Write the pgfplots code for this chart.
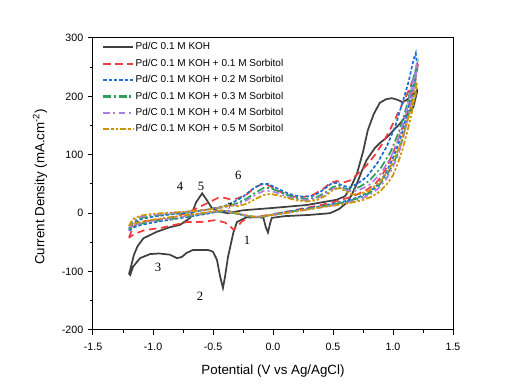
\documentclass[border=0pt]{standalone}
\usepackage{fontspec}
\setmainfont{Liberation Sans}
\newfontfamily\serifnum{Liberation Serif}
\usepackage{pgfplots}
\pgfplotsset{compat=1.18}
\definecolor{cblack}{HTML}{404040}
\definecolor{cred}{HTML}{F03C3C}
\definecolor{cblue}{HTML}{1E6ED8}
\definecolor{cgreen}{HTML}{2CA05A}
\definecolor{cpurple}{HTML}{B07EE0}
\definecolor{corange}{HTML}{CC9600}
\begin{document}
\begin{tikzpicture}
\begin{axis}[
  scale only axis, width=270pt, height=219pt,
  xmin=-1.5, xmax=1.5, ymin=-200, ymax=300,
  xtick={-1.5,-1,-0.5,0,0.5,1,1.5},
  xticklabels={-1.5,-1.0,-0.5,0.0,0.5,1.0,1.5},
  ytick={-200,-100,0,100,200,300},
  yticklabels={-200,-100,0,100,200,300},
  minor x tick num=1, minor y tick num=1,
  xtick pos=bottom, ytick pos=left,
  tick align=outside,
  major tick length=3.75pt, minor tick length=2.25pt,
  axis line style={line width=0.75pt},
  every tick/.style={line width=0.75pt, black},
  tick label style={font=\fontsize{8}{9.6}\selectfont},
  xticklabel style={yshift=-2.5pt},
  xlabel={Potential (V vs Ag/AgCl)},
  ylabel={Current Density (mA.cm\textsuperscript{-2})},
  label style={font=\fontsize{10}{12}\selectfont},
  xlabel style={at={(axis description cs:0.5,-0.14)}, anchor=center},
  ylabel style={at={(axis description cs:-0.1472,0.49)}, anchor=center},
  legend style={at={(axis description cs:0.025,0.99)}, anchor=north west, draw=none, fill=none,
    font=\fontsize{7.5}{8.5}\selectfont, row sep=3.4pt, inner sep=0pt,
    nodes={inner sep=1pt}},
  legend cell align=left,
  legend image code/.code={\draw[#1, line width=1.6pt] (0pt,0pt) -- (22.5pt,0pt);},
  every axis plot/.append style={line width=1.3pt},
]
% Pd/C 0.1 M KOH
\addplot[cblack, solid] coordinates {
(-1.2,-104) (-1.19,-97) (-1.16,-72) (-1.13,-57) (-1.08,-43) (-0.97,-32) (-0.86,-24) (-0.775,-20) (-0.69,-8) (-0.64,19) (-0.59,34) (-0.55,22) (-0.51,9) (-0.45,3) (-0.38,0) (-0.25,5) (0,9) (0.28,14) (0.53,23) (0.6,29) (0.65,45) (0.7,68) (0.75,105) (0.79,142) (0.84,170) (0.89,189) (0.94,195) (0.99,197) (1.04,194) (1.08,190) (1.12,195) (1.16,201) (1.2,210)
(1.2,207) (1.17,182) (1.11,167) (1.06,154) (1.0,141) (0.95,130) (0.89,120) (0.85,112) (0.81,100) (0.78,91) (0.74,72) (0.7,51) (0.66,33) (0.62,19) (0.55,7) (0.475,0) (0.3,-3) (0.1,-5) (-0.01,-8) (-0.025,-18) (-0.042,-33) (-0.06,-24) (-0.08,-8) (-0.15,-6) (-0.22,-7) (-0.3,-15) (-0.33,-33) (-0.375,-75) (-0.4,-109) (-0.417,-128) (-0.44,-109) (-0.467,-80) (-0.5,-66) (-0.54,-63) (-0.667,-63) (-0.72,-68) (-0.76,-75) (-0.8,-77) (-0.86,-71) (-0.95,-69) (-1.025,-70) (-1.108,-77) (-1.167,-92) (-1.19,-106) (-1.2,-104)
};
\addlegendentry{Pd/C 0.1 M KOH}
% + 0.1 M Sorbitol
\addplot[cred, dash pattern=on 5.5pt off 3.5pt] coordinates {
(-1.2,-42) (-1.17,-25) (-1.12,-15) (-1.0,-12) (-0.9,-10) (-0.8,-5) (-0.7,2) (-0.6,12) (-0.52,20) (-0.46,26) (-0.42,27) (-0.36,24) (-0.3,25) (-0.22,32) (-0.15,44) (-0.1,49) (-0.04,48) (0.03,40) (0.1,33) (0.18,28) (0.26,28) (0.34,32) (0.42,42) (0.48,52) (0.53,55) (0.58,52) (0.64,56) (0.7,66) (0.78,82) (0.85,100) (0.92,122) (0.98,145) (1.05,175) (1.12,205) (1.17,230) (1.2,245)
(1.18,220) (1.14,190) (1.1,160) (1.05,130) (1.0,103) (0.95,80) (0.9,62) (0.85,50) (0.78,40) (0.7,32) (0.62,26) (0.52,20) (0.4,14) (0.25,8) (0.1,2) (0,-2) (-0.1,-5) (-0.2,-8) (-0.26,-14) (-0.3,-24) (-0.33,-28) (-0.36,-22) (-0.4,-16) (-0.48,-12) (-0.6,-15) (-0.71,-15) (-0.82,-20) (-0.93,-25) (-1.07,-29) (-1.15,-35) (-1.2,-42)
};
\addlegendentry{Pd/C 0.1 M KOH + 0.1 M Sorbitol}
% + 0.2 M Sorbitol
\addplot[cblue, dash pattern=on 2.5pt off 1.5pt] coordinates {
(-1.2,-30) (-1.17,-18) (-1.1,-10) (-1.0,-6) (-0.85,-2) (-0.7,1) (-0.55,6) (-0.45,10) (-0.38,14) (-0.32,20) (-0.25,28) (-0.18,40) (-0.1,50) (-0.04,50) (0.03,43) (0.1,36) (0.18,30) (0.26,28) (0.34,30) (0.42,40) (0.48,50) (0.53,52) (0.58,47) (0.64,44) (0.7,50) (0.78,62) (0.87,86) (0.95,115) (1.02,150) (1.08,190) (1.13,225) (1.17,262) (1.19,274)
(1.2,255) (1.17,220) (1.13,180) (1.08,140) (1.03,110) (0.98,85) (0.93,65) (0.87,48) (0.8,36) (0.72,28) (0.63,22) (0.52,17) (0.4,12) (0.25,7) (0.1,2) (0,-2) (-0.08,-6) (-0.15,-7) (-0.22,-5) (-0.3,0) (-0.38,4) (-0.45,3) (-0.55,-1) (-0.7,-6) (-0.85,-11) (-1.0,-16) (-1.1,-20) (-1.17,-25) (-1.2,-30)
};
\addlegendentry{Pd/C 0.1 M KOH + 0.2 M Sorbitol}
% + 0.3 M Sorbitol
\addplot[cgreen, dash pattern=on 6pt off 2pt on 1.5pt off 2pt] coordinates {
(-1.2,-27) (-1.17,-15) (-1.1,-8) (-1.0,-4) (-0.85,-1) (-0.7,2) (-0.55,6) (-0.45,9) (-0.38,12) (-0.3,17) (-0.22,25) (-0.14,36) (-0.08,43) (-0.02,43) (0.05,37) (0.12,31) (0.2,26) (0.28,24) (0.36,27) (0.44,36) (0.5,45) (0.55,47) (0.6,42) (0.66,40) (0.72,45) (0.8,55) (0.9,78) (0.98,105) (1.05,140) (1.11,180) (1.16,225) (1.2,252)
(1.19,230) (1.16,195) (1.12,160) (1.08,128) (1.04,102) (0.99,80) (0.94,62) (0.88,47) (0.81,35) (0.73,27) (0.64,21) (0.53,16) (0.4,11) (0.25,6) (0.1,1) (0,-3) (-0.08,-6) (-0.15,-7) (-0.22,-5) (-0.3,-1) (-0.38,3) (-0.45,3) (-0.55,0) (-0.7,-5) (-0.85,-10) (-1.0,-14) (-1.1,-18) (-1.17,-22) (-1.2,-27)
};
\addlegendentry{Pd/C 0.1 M KOH + 0.3 M Sorbitol}
% + 0.4 M Sorbitol
\addplot[cpurple, dash pattern=on 5pt off 2.5pt on 1.5pt off 2.5pt] coordinates {
(-1.2,-25) (-1.17,-13) (-1.1,-6) (-1.0,-3) (-0.85,0) (-0.7,3) (-0.55,6) (-0.45,9) (-0.38,11) (-0.3,15) (-0.22,22) (-0.14,32) (-0.08,38) (-0.02,38) (0.05,34) (0.12,28) (0.2,24) (0.28,22) (0.36,25) (0.44,33) (0.5,42) (0.55,44) (0.6,40) (0.66,37) (0.72,40) (0.8,48) (0.9,68) (0.98,95) (1.05,130) (1.11,172) (1.16,220) (1.2,258)
(1.19,235) (1.16,200) (1.12,160) (1.08,125) (1.04,98) (0.99,75) (0.94,57) (0.88,43) (0.81,32) (0.73,24) (0.64,19) (0.53,14) (0.4,10) (0.25,5) (0.1,0) (0,-3) (-0.08,-6) (-0.15,-6) (-0.22,-4) (-0.3,-1) (-0.38,3) (-0.45,4) (-0.55,1) (-0.7,-4) (-0.85,-9) (-1.0,-13) (-1.1,-17) (-1.17,-21) (-1.2,-25)
};
\addlegendentry{Pd/C 0.1 M KOH + 0.4 M Sorbitol}
% + 0.5 M Sorbitol
\addplot[corange, dash pattern=on 4.5pt off 1.5pt on 1.8pt off 1.5pt on 1.8pt off 1.5pt] coordinates {
(-1.2,-22) (-1.17,-10) (-1.1,-4) (-1.0,-1) (-0.85,1) (-0.7,3) (-0.55,6) (-0.45,9) (-0.4,12) (-0.35,14) (-0.3,12) (-0.22,16) (-0.14,25) (-0.08,31) (-0.02,33) (0.05,30) (0.12,26) (0.2,22) (0.28,20) (0.36,22) (0.44,30) (0.5,40) (0.55,43) (0.6,38) (0.66,32) (0.72,33) (0.8,38) (0.9,55) (0.98,80) (1.05,112) (1.11,150) (1.16,190) (1.2,225)
(1.19,205) (1.16,175) (1.12,140) (1.08,110) (1.04,85) (1.0,65) (0.95,50) (0.89,37) (0.82,28) (0.74,22) (0.65,18) (0.53,14) (0.4,10) (0.25,5) (0.1,0) (0,-3) (-0.08,-5) (-0.15,-6) (-0.22,-4) (-0.3,0) (-0.36,3) (-0.42,5) (-0.5,3) (-0.6,0) (-0.75,-4) (-0.9,-8) (-1.0,-11) (-1.1,-15) (-1.17,-18) (-1.2,-22)
};
\addlegendentry{Pd/C 0.1 M KOH + 0.5 M Sorbitol}
% peak labels
\node[font=\serifnum\fontsize{9.5}{11}\selectfont] at (axis cs:-0.217,-46) {1};
\node[font=\serifnum\fontsize{9.5}{11}\selectfont] at (axis cs:-0.608,-143) {2};
\node[font=\serifnum\fontsize{9.5}{11}\selectfont] at (axis cs:-0.958,-93) {3};
\node[font=\serifnum\fontsize{9.5}{11}\selectfont] at (axis cs:-0.775,46.6) {4};
\node[font=\serifnum\fontsize{9.5}{11}\selectfont] at (axis cs:-0.6,46.6) {5};
\node[font=\serifnum\fontsize{9.5}{11}\selectfont] at (axis cs:-0.29,65.4) {6};
\node[font=\serifnum\fontsize{7}{8}\selectfont] at (axis cs:-0.36,12) {7};
\end{axis}
\pgfresetboundingbox
\path ([xshift=-69.75pt,yshift=-45pt]current axis.south west) rectangle ([xshift=48pt,yshift=28.5pt]current axis.north east);
\end{tikzpicture}
\end{document}
